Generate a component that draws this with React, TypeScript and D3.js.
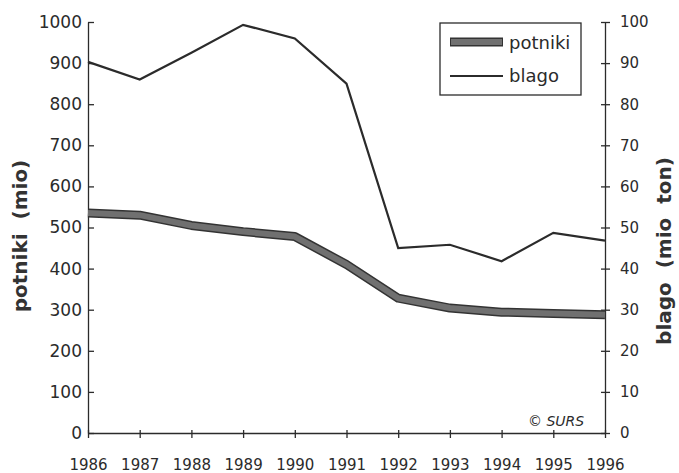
import React, { useEffect, useRef } from 'react';
import * as d3 from 'd3';

const years = [1986, 1987, 1988, 1989, 1990, 1991, 1992, 1993, 1994, 1995, 1996];
const potniki = [535, 530, 505, 490, 478, 410, 328, 304, 294, 291, 288];
const blago = [90.3, 86, 92.5, 99.3, 96, 85, 45, 45.8, 41.8, 48.7, 46.8];
const leftTicks = [0, 100, 200, 300, 400, 500, 600, 700, 800, 900, 1000];
const rightTicks = [0, 10, 20, 30, 40, 50, 60, 70, 80, 90, 100];

const W = 679;
const H = 473;
const font = '"DejaVu Sans", Arial, sans-serif';
const ink = '#2b2b2b';

const App: React.FC = () => {
  const ref = useRef<SVGSVGElement | null>(null);

  useEffect(() => {
    const svg = d3.select(ref.current);
    svg.selectAll('*').remove();

    const x = d3.scaleLinear().domain([1986, 1996]).range([88, 605]);
    const yL = d3.scaleLinear().domain([0, 1000]).range([433, 22]);
    const yR = d3.scaleLinear().domain([0, 100]).range([433, 22]);

    // left axis
    const gl = svg.append('g').attr('transform', 'translate(88,0)');
    gl.call(d3.axisLeft(yL).tickValues(leftTicks).tickFormat(d3.format('d')).tickSize(4).tickSizeOuter(0).tickPadding(2));
    gl.selectAll('.tick line').attr('x2', 6);
    gl.selectAll('.tick text').attr('font-size', 17).attr('font-family', font).attr('fill', ink);

    // right axis
    const gr = svg.append('g').attr('transform', 'translate(605,0)');
    gr.call(d3.axisRight(yR).tickValues(rightTicks).tickSize(5).tickSizeOuter(0).tickPadding(10));
    gr.selectAll('.tick line').attr('x1', -4);
    gr.selectAll('.tick text').attr('font-size', 15).attr('font-family', font).attr('fill', ink);

    // bottom axis
    const gb = svg.append('g').attr('transform', 'translate(0,433)');
    gb.call(d3.axisBottom(x).tickValues(years).tickFormat(d3.format('d')).tickSize(5).tickSizeOuter(0).tickPadding(21));
    gb.selectAll('.tick line').attr('y1', -3);
    gb.selectAll('.tick text').attr('font-size', 15).attr('font-family', font).attr('fill', ink);

    svg.selectAll('.domain, .tick line').attr('stroke', ink).attr('stroke-width', 1.3);

    // lines
    const lineL = d3.line<number>().x((_, i) => x(years[i])).y(d => yL(d));
    const lineR = d3.line<number>().x((_, i) => x(years[i])).y(d => yR(d));

    svg.append('path').datum(potniki).attr('d', lineL).attr('fill', 'none')
      .attr('stroke', '#333').attr('stroke-width', 9).attr('stroke-linejoin', 'round');
    svg.append('path').datum(potniki).attr('d', lineL).attr('fill', 'none')
      .attr('stroke', '#707070').attr('stroke-width', 6).attr('stroke-linejoin', 'round');
    svg.append('path').datum(blago).attr('d', lineR).attr('fill', 'none')
      .attr('stroke', ink).attr('stroke-width', 2.2);

    // legend
    const lg = svg.append('g');
    lg.append('rect').attr('x', 440).attr('y', 23).attr('width', 141).attr('height', 72)
      .attr('fill', 'white').attr('stroke', ink).attr('stroke-width', 1.3);
    lg.append('line').attr('x1', 450).attr('x2', 503).attr('y1', 42).attr('y2', 42)
      .attr('stroke', '#333').attr('stroke-width', 9);
    lg.append('line').attr('x1', 451).attr('x2', 502).attr('y1', 42).attr('y2', 42)
      .attr('stroke', '#707070').attr('stroke-width', 6);
    lg.append('line').attr('x1', 450).attr('x2', 503).attr('y1', 76).attr('y2', 76)
      .attr('stroke', ink).attr('stroke-width', 2.2);
    lg.append('text').attr('x', 509).attr('y', 49).text('potniki')
      .attr('font-size', 18).attr('font-family', font).attr('fill', ink);
    lg.append('text').attr('x', 509).attr('y', 82).text('blago')
      .attr('font-size', 18).attr('font-family', font).attr('fill', ink);

    // axis titles
    svg.append('text').attr('transform', 'translate(27,236) rotate(-90)')
      .attr('text-anchor', 'middle').attr('font-size', 20).attr('font-weight', 'bold')
      .attr('font-family', font).attr('fill', '#333').style('white-space', 'pre')
      .text('potniki  (mio)');
    svg.append('text').attr('transform', 'translate(671,251) rotate(-90)')
      .attr('text-anchor', 'middle').attr('font-size', 20).attr('font-weight', 'bold')
      .attr('font-family', font).attr('fill', '#333').style('white-space', 'pre')
      .text('blago  (mio  ton)');

    svg.append('text').attr('x', 528).attr('y', 426).text('\u00a9 SURS')
      .attr('font-size', 14).attr('font-style', 'italic').attr('font-family', font).attr('fill', ink);
  }, []);

  return (
    <svg
      ref={ref}
      width={W}
      height={H}
      style={{ position: 'fixed', top: 0, left: 0, display: 'block', background: 'white' }}
    />
  );
};

export default App;
